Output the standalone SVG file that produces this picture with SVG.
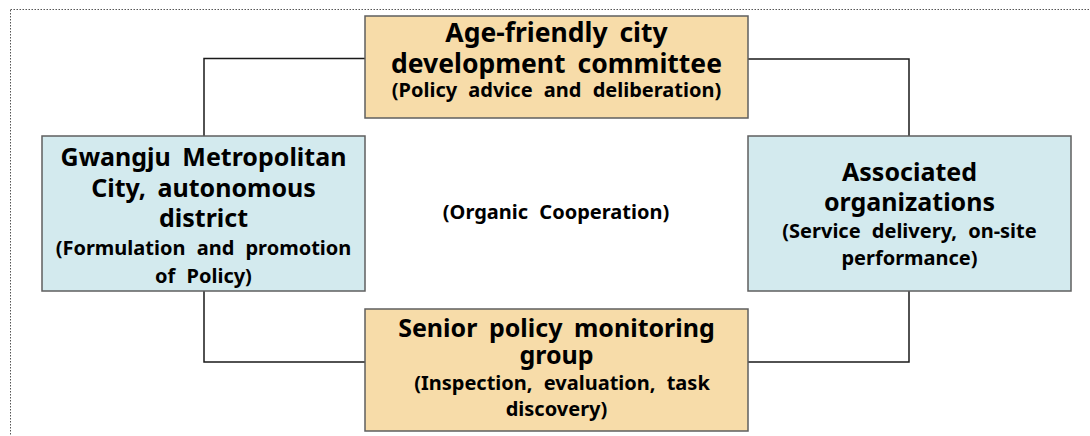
<svg xmlns="http://www.w3.org/2000/svg" width="1090" height="436" viewBox="0 0 1090 436">
  <style>
    .box { stroke: #5f5f5f; stroke-width: 1.5; }
    .orange { fill: #F7DCA9; }
    .blue { fill: #D3EAEE; }
    .conn { fill: none; stroke: #1a1a1a; stroke-width: 1.5; }
    text { font-family: "Noto Sans", "Open Sans", sans-serif; font-weight: bold; fill: #000; text-anchor: middle; }
    .t { font-size: 25px; word-spacing: 5px; }
    .tb { font-size: 26.5px; word-spacing: 5px; }
    .s { font-size: 20px; word-spacing: 6px; }
  </style>
  <rect x="10.5" y="9.5" width="1100" height="440" fill="none" stroke="#555" stroke-width="1" stroke-dasharray="1.5,1.5"/>
  <g id="connectors">
    <polyline class="conn" points="365,58.5 204,58.5 204,136"/>
    <polyline class="conn" points="748,59 909,59 909,136"/>
    <polyline class="conn" points="204,291 204,362 365,362"/>
    <polyline class="conn" points="909,291 909,362 748,362"/>
  </g>
  <g id="committee">
    <rect class="box orange" x="365" y="16" width="383" height="102"/>
    <text class="tb" x="556.5" y="42">Age-friendly city</text>
    <text class="tb" x="556.5" y="73">development committee</text>
    <text class="s" x="556.5" y="97">(Policy advice and deliberation)</text>
  </g>
  <g id="gwangju">
    <rect class="box blue" x="42" y="136" width="323" height="155"/>
    <text class="t" x="203.5" y="166">Gwangju Metropolitan</text>
    <text class="t" x="203.5" y="197">City, autonomous</text>
    <text class="t" x="203.5" y="227">district</text>
    <text class="s" x="203.5" y="255">(Formulation and promotion</text>
    <text class="s" x="203.5" y="283">of Policy)</text>
  </g>
  <g id="associated">
    <rect class="box blue" x="748" y="136" width="323" height="155"/>
    <text class="t" x="909.5" y="181">Associated</text>
    <text class="t" x="909.5" y="211">organizations</text>
    <text class="s" x="909.5" y="238">(Service delivery, on-site</text>
    <text class="s" x="909.5" y="265">performance)</text>
  </g>
  <g id="cooperation">
    <text class="s" x="556" y="219">(Organic Cooperation)</text>
  </g>
  <g id="monitoring">
    <rect class="box orange" x="365" y="309" width="383" height="122"/>
    <text class="t" x="556.5" y="337">Senior policy monitoring</text>
    <text class="t" x="556.5" y="364">group</text>
    <text class="s" x="562" y="390">(Inspection, evaluation, task</text>
    <text class="s" x="556.5" y="416">discovery)</text>
  </g>
</svg>
